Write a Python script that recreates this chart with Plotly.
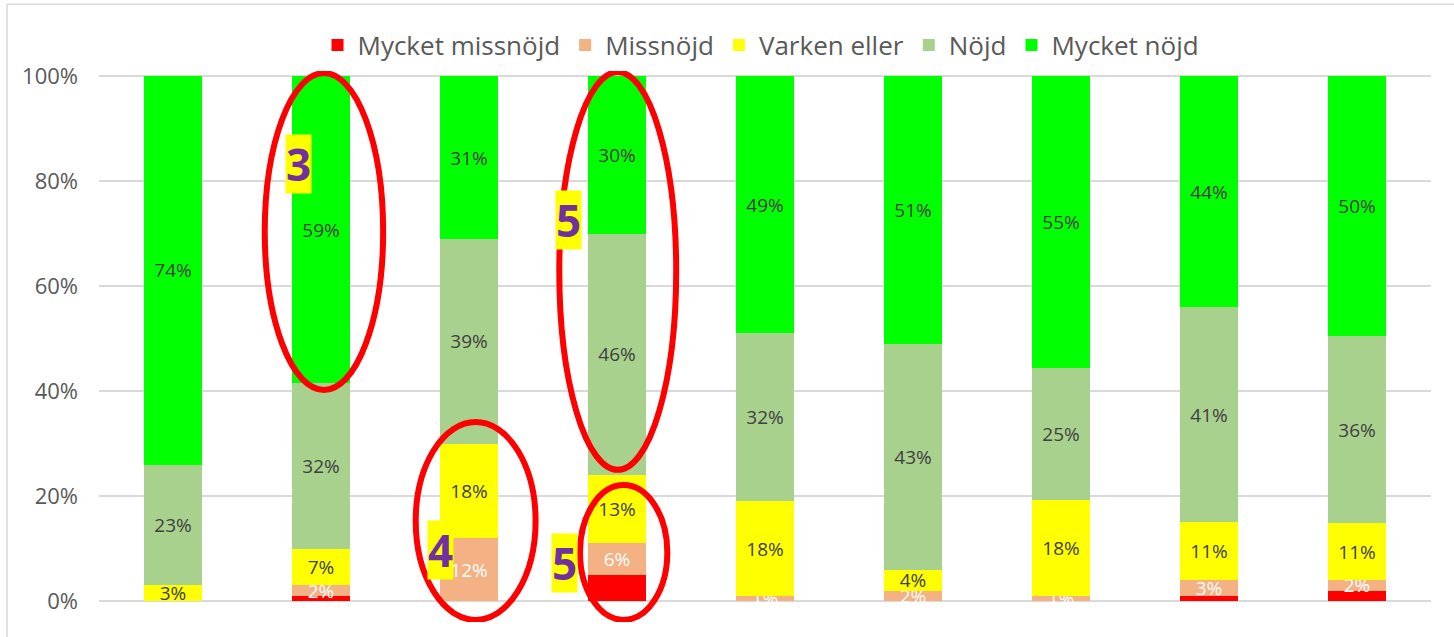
import plotly.graph_objects as go

categories = ["1", "2", "3", "4", "5", "6", "7", "8", "9"]
series_names = ["Mycket missnöjd", "Missnöjd", "Varken eller", "Nöjd", "Mycket nöjd"]
mycket_missnojd = [0, 1, 0, 5, 0, 0, 0, 1, 2]
missnojd = [0, 2, 12, 6, 1, 2, 1, 3, 2]
varken_eller = [3, 7, 18, 13, 18, 4, 18, 11, 11]
nojd = [23, 32, 39, 46, 32, 43, 25, 41, 36]
mycket_nojd = [74, 59, 31, 30, 49, 51, 55, 44, 50]
y_ticks = [0, 0.2, 0.4, 0.6, 0.8, 1.0]

# callout markers drawn on the original image
callout_numbers = ["3", "4", "5", "5"]

colors = ["#FF0000", "#F4B183", "#FFFF00", "#A9D18E", "#00FF00"]
label_colors = [None, "white", "#404040", "#404040", "#404040"]
values = [mycket_missnojd, missnojd, varken_eller, nojd, mycket_nojd]

FONT = "Open Sans"
fig = go.Figure()
for name, vals, col, lc in zip(series_names, values, colors, label_colors):
    if lc is None:
        text = None
    else:
        text = [f"{v}%" if v > 0 else "" for v in vals]
    fig.add_trace(go.Bar(
        x=categories, y=vals, name=name, marker=dict(color=col, line=dict(width=0)),
        text=text, textposition="inside" if text else "none",
        insidetextanchor="middle", constraintext="none", textangle=0,
        textfont=dict(family=FONT, size=19, color=lc or "white"),
        hoverinfo="skip",
    ))

# ellipses (data coordinates: category index / fraction)
ellipses = [(0.62, 1.42, 0.402, 1.006), (1.64, 2.45, -0.036, 0.341),
            (2.61, 3.40, 0.250, 1.008), (2.75, 3.34, -0.036, 0.221)]
shapes = []
for x0, x1, y0, y1 in ellipses:
    shapes.append(dict(type="circle", xref="x", yref="y", x0=x0, x1=x1, y0=y0, y1=y1,
                       line=dict(color="#FF0000", width=6), layer="above"))

# outer frame
shapes.append(dict(type="rect", xref="paper", yref="paper",
                   x0=(7 - 99) / 1332, x1=(1460 - 99) / 1332,
                   y0=(622 - 660) / 551.25, y1=(622 - 4) / 551.25,
                   line=dict(color="#D9D9D9", width=1.5), layer="below"))

box_pos = [(0.845, 0.832), (1.807, 0.097), (2.672, 0.726), (2.645, 0.072)]
annotations = []
for (bx, by), num in zip(box_pos, callout_numbers):
    annotations.append(dict(x=bx, y=by, xref="x", yref="y", text=f"<b>{num}</b>",
                            showarrow=False, bgcolor="#FFFF00", width=25, height=58,
                            font=dict(family=FONT, size=44, color="#7030A0"),
                            borderpad=0))

fig.update_layout(
    barmode="stack", barnorm="fraction", bargap=0.61,
    width=1454, height=637,
    margin=dict(l=99, r=23, t=71, b=15, autoexpand=False),
    paper_bgcolor="white", plot_bgcolor="white",
    font=dict(family=FONT, color="#595959"),
    legend=dict(orientation="h", x=0.497, xanchor="center",
                yref="container", y=(637 - 45) / 637, yanchor="middle",
                font=dict(family=FONT, size=26, color="#595959"),
                traceorder="normal"),
    xaxis=dict(showticklabels=False, showgrid=False, zeroline=False, showline=False,
               range=[-0.5, 8.5]),
    yaxis=dict(range=[-0.04, 1.01], tickvals=y_ticks, tickformat=".0%",
               gridcolor="#D9D9D9", gridwidth=1.5, zeroline=False, showline=False,
               tickfont=dict(family=FONT, size=22, color="#595959"), ticks="",
               ticklabelstandoff=20),
    shapes=shapes, annotations=annotations,
)
fig.write_html("out.html", config={"displayModeBar": False},
               post_script="document.body.style.margin='0';document.body.style.overflow='hidden';")
